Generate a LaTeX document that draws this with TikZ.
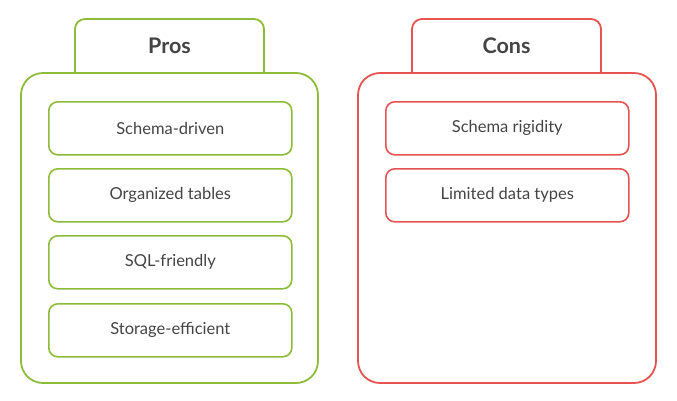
\documentclass[tikz,border=0pt]{standalone}
\usepackage{fontspec}
\setmainfont{Lato}
\definecolor{pgreen}{HTML}{8DBB3A}
\definecolor{cred}{HTML}{E55451}
\definecolor{txt}{HTML}{444444}
\begin{document}
\begin{tikzpicture}[x=1pt,y=-1pt,
  item/.style={draw, line width=1.6pt, rounded corners=9pt, minimum width=243pt, minimum height=53pt, inner sep=0pt, text=txt, font=\fontsize{16.5}{19}\selectfont, anchor=north west},
  panel/.style={line width=1.8pt, rounded corners=22pt},
  tab/.style={line width=1.8pt, rounded corners=10pt},
  title/.style={text=txt, font=\fontsize{21.5}{25}\selectfont\bfseries}]
\useasboundingbox[fill=white] (0,0) rectangle (677,400);
% Pros
\draw[tab, pgreen] (75,73) -- (75,19) -- (264,19) -- (264,73);
\node[title] (prost) at (169.5,46) {Pros};
\draw[panel, pgreen] (21,73) rectangle (318,383);
\node[item, pgreen] (p1) at (48,101) {\textcolor{txt}{Schema-driven}};
\node[item, pgreen] (p2) at (48,168) {\textcolor{txt}{Organized tables}};
\node[item, pgreen] (p3) at (48,235) {\textcolor{txt}{SQL-friendly}};
\node[item, pgreen] (p4) at (48,303) {\textcolor{txt}{Storage-efficient}};
% Cons
\draw[tab, cred] (412,73) -- (412,19) -- (601,19) -- (601,73);
\node[title] (const) at (506.5,46) {Cons};
\draw[panel, cred] (358,73) rectangle (656,383);
\node[item, cred] (c1) at (385,101) {\textcolor{txt}{Schema rigidity}};
\node[item, cred] (c2) at (385,168) {\textcolor{txt}{Limited data types}};
\end{tikzpicture}
\end{document}
